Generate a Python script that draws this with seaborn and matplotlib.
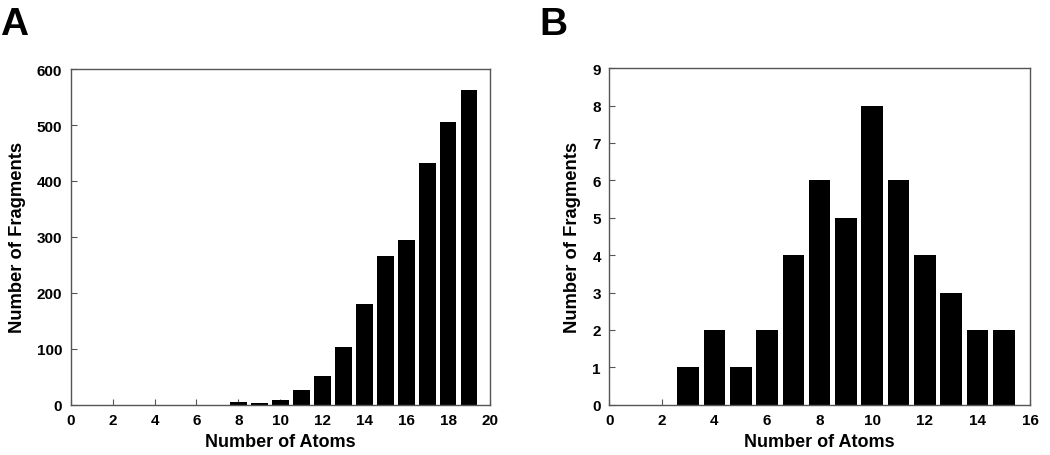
import matplotlib
matplotlib.use("Agg")
import matplotlib.pyplot as plt
import seaborn as sns
import pandas as pd

sns.set_theme(style="white")
plt.rcParams['font.family'] = ['Liberation Sans', 'DejaVu Sans']
plt.rcParams['font.weight'] = 'bold'
plt.rcParams['text.color'] = 'black'
plt.rcParams['axes.labelcolor'] = 'black'
plt.rcParams['xtick.color'] = 'black'
plt.rcParams['ytick.color'] = 'black'

atoms_a = [8, 9, 10, 11, 12, 13, 14, 15, 16, 17, 18, 19]
frags_a = [4, 3, 9, 26, 51, 104, 180, 266, 294, 433, 505, 562]

atoms_b = [3, 4, 5, 6, 7, 8, 9, 10, 11, 12, 13, 14, 15]
frags_b = [1, 2, 1, 2, 4, 6, 5, 8, 6, 4, 3, 2, 2]

xticks_a = list(range(0, 21, 2))
yticks_a = list(range(0, 601, 100))
xticks_b = list(range(0, 17, 2))
yticks_b = list(range(0, 10, 1))

fig = plt.figure(figsize=(10.5, 4.56), dpi=100)
ax_a = fig.add_axes([0.0673, 0.1103, 0.3994, 0.736])
ax_b = fig.add_axes([0.5803, 0.1103, 0.4007, 0.738])

def draw(ax, xs, ys, xt, yt, xlim, ylim, width):
    df = pd.DataFrame({"x": xs, "y": ys})
    sns.barplot(data=df, x="x", y="y", native_scale=True, color="black",
                saturation=1, width=width, ax=ax, edgecolor="black", linewidth=0)
    ax.set_xlim(*xlim)
    ax.set_ylim(*ylim)
    ax.set_xticks(xt)
    ax.set_yticks(yt)
    ax.set_xticklabels([str(v) for v in xt], fontsize=11, fontweight='bold', color='black')
    ax.set_yticklabels([str(v) for v in yt], fontsize=11, fontweight='bold', color='black')
    ax.tick_params(direction='in', length=4, width=0.8, color='#555555', pad=6,
                   bottom=True, left=True)
    for s in ax.spines.values():
        s.set_color('#555555')
        s.set_linewidth(1.0)
        s.set_visible(True)
    ax.set_xlabel("Number of Atoms", fontsize=13, fontweight='bold', labelpad=4, color='black')
    ax.set_ylabel("Number of Fragments", fontsize=13.2, fontweight='bold', labelpad=8, color='black')
    ax.grid(False)

draw(ax_a, atoms_a, frags_a, xticks_a, yticks_a, (0, 20), (0, 600), 0.8)
draw(ax_b, atoms_b, frags_b, xticks_b, yticks_b, (0, 16), (0, 9), 0.82)

fig.text(0.0, 0.985, "A", fontsize=28, fontweight='bold', va='top', ha='left', color='black')
fig.text(0.514, 0.985, "B", fontsize=28, fontweight='bold', va='top', ha='left', color='black')

fig.savefig("out.png", dpi=100, facecolor="white")
